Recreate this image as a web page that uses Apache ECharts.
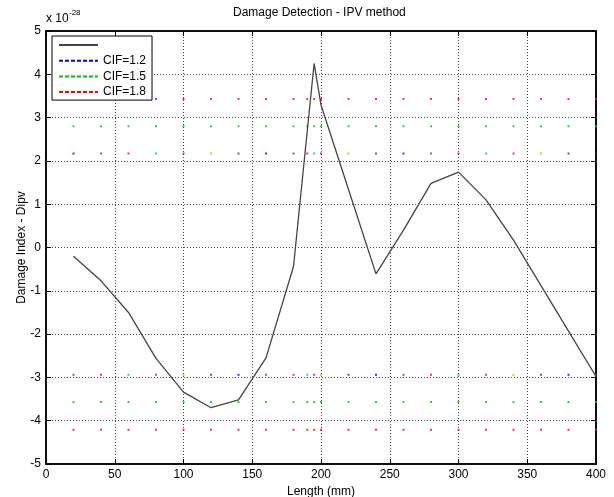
<!DOCTYPE html>
<html>
<head>
<meta charset="utf-8">
<script src="https://cdn.jsdelivr.net/npm/echarts@6/dist/echarts.min.js"></script>
<style>html,body{margin:0;padding:0;background:#fff;}#c{width:614px;height:497px;}</style>
</head>
<body>
<div id="c"></div>
<script>
// x sample positions (mm)
const xPos = [20,40,60,80,100,120,140,160,180,190,195,200,220,240,260,280,300,320,340,360,380,400];
// Damage index Dipv (x 1e-28)
const dipv = [-0.20,-0.77,-1.50,-2.56,-3.34,-3.70,-3.52,-2.55,-0.44,2.69,4.25,3.29,1.34,-0.61,0.40,1.48,1.74,1.10,0.17,-0.88,-1.93,-2.98];
// thresholds
const cifLabels = ['CIF=1.2','CIF=1.5','CIF=1.8'];
const cifUpper = [2.17, 2.80, 3.43];
const cifLower = [-2.94, -3.57, -4.21];
// tick settings
const xTicks = {min:0, max:400, interval:50};
const yTicks = {min:-5, max:5, interval:1};

const FONT = 'Liberation Sans, Arial, Helvetica, sans-serif';
const order = ['#0000ff','#008000','#ff0000','#00bfbf','#bf00bf','#bfbf00','#404040'];
const cifColors = ['#0000ff','#00c000','#ff0000'];

function rowData(val, colorFn){
  return xPos.map((x,i)=>({value:[x,val], itemStyle:{color:colorFn(i)}}));
}

const series = [];
series.push({
  name:' ', type:'line', data: xPos.map((x,i)=>[x, dipv[i]]),
  symbol:'none', lineStyle:{color:'#444', width:1.3}, itemStyle:{color:'#444'}, z:3
});
cifLabels.forEach((lab,k)=>{
  series.push({
    name: lab, type:'line', data: [], symbol:'none',
    lineStyle:{color:cifColors[k], width:1, type:[4,2]}, itemStyle:{color:cifColors[k]}
  });
  const cf = k===0 ? (i)=>order[i%7] : ()=>cifColors[k];
  const cfl = k===0 ? (i)=>order[(i+1)%7] : ()=>cifColors[k];
  series.push({type:'scatter', symbol:'rect', symbolSize:2, data: rowData(cifUpper[k], cf), silent:true, z:2});
  series.push({type:'scatter', symbol:'rect', symbolSize:2, data: rowData(cifLower[k], cfl), silent:true, z:2});
});

const gridLine = {show:true, lineStyle:{color:'#444', width:1, type:[1,2]}};
const axLine = {show:true, onZero:false, lineStyle:{color:'#000', width:1.5}};
const axTick = {show:true, inside:true, length:5, lineStyle:{color:'#000'}};

const option = {
  animation:false,
  backgroundColor:'#fff',
  textStyle:{fontFamily:FONT},
  title:[
    {text:'Damage Detection - IPV method', left:233, top:7, padding:0,
     textStyle:{fontSize:12, fontWeight:'normal', color:'#000', fontFamily:FONT}},
    {text:'x 10', left:46, top:13, padding:0,
     textStyle:{fontSize:12, fontWeight:'normal', color:'#000', fontFamily:FONT}},
    {text:'-28', left:69, top:9, padding:0,
     textStyle:{fontSize:8, fontWeight:'normal', color:'#000', fontFamily:FONT}}
  ],
  legend:{
    left:52, top:36, orient:'vertical', itemWidth:39, itemHeight:12, itemGap:3.7,
    padding:[3,6,2,6], itemTextGap:6,
    backgroundColor:'#fff', borderColor:'#000', borderWidth:1, borderRadius:0,
    textStyle:{fontSize:12, color:'#000', fontFamily:FONT},
    itemStyle:{opacity:0},
    data: [' '].concat(cifLabels), z:10
  },
  grid:{left:46, top:31, width:550, height:433, containLabel:false, outerBoundsMode:'none',
        show:true, borderColor:'#000', borderWidth:1.5, backgroundColor:'transparent'},
  xAxis:[
    {type:'value', min:xTicks.min, max:xTicks.max, interval:xTicks.interval, position:'bottom',
     name:'Length (mm)', nameLocation:'middle', nameGap:20,
     nameTextStyle:{fontSize:12, color:'#000', fontFamily:FONT, verticalAlign:'top'},
     axisLine:axLine, axisTick:axTick, splitLine:gridLine,
     axisLabel:{color:'#000', fontSize:12, margin:5, fontFamily:FONT}},
    {type:'value', min:xTicks.min, max:xTicks.max, interval:xTicks.interval, position:'top',
     axisLine:axLine, axisTick:axTick, splitLine:{show:false}, axisLabel:{show:false}}
  ],
  yAxis:[
    {type:'value', min:yTicks.min, max:yTicks.max, interval:yTicks.interval, position:'left',
     name:'Damage Index - Dipv', nameLocation:'middle', nameGap:18, nameRotate:90, nameMoveOverlap:false,
     nameTextStyle:{fontSize:12, color:'#000', fontFamily:FONT},
     axisLine:axLine, axisTick:axTick, splitLine:gridLine,
     axisLabel:{color:'#000', fontSize:12, margin:5, fontFamily:FONT}},
    {type:'value', min:yTicks.min, max:yTicks.max, interval:yTicks.interval, position:'right',
     axisLine:axLine, axisTick:axTick, splitLine:{show:false}, axisLabel:{show:false}}
  ],
  series: series
};
const chart = echarts.init(document.getElementById('c'), null, {renderer:'canvas'});
chart.setOption(option);
</script>
</body>
</html>
